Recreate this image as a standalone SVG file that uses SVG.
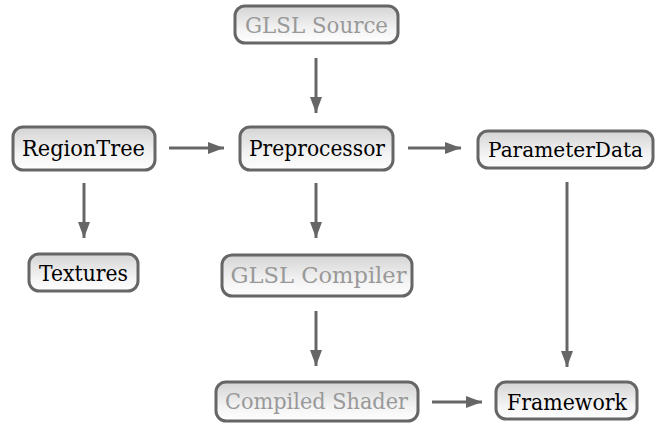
<svg xmlns="http://www.w3.org/2000/svg" width="660" height="423" viewBox="0 0 660 423">
<defs>
<linearGradient id="g" x1="0" y1="0" x2="0" y2="1">
<stop offset="0" stop-color="#d4d4d4"/>
<stop offset="0.6" stop-color="#f2f2f2"/>
<stop offset="1" stop-color="#ffffff"/>
</linearGradient>
<marker id="ah" viewBox="0 0 16 12" refX="16" refY="6" markerWidth="16" markerHeight="12" markerUnits="userSpaceOnUse" orient="auto">
<path d="M0,0 L16,6 L0,12 Z" fill="#666"/>
</marker>
<style>
.box{fill:url(#g);stroke:#666;stroke-width:3}
.dk{fill:#000}
.lt{fill:#999}
.c{stroke:#666;stroke-width:3;fill:none;marker-end:url(#ah)}
</style>
</defs>
<rect width="660" height="423" fill="#fff"/>
<g id="connectors">
<line class="c" x1="316" y1="58" x2="316" y2="113"/>
<line class="c" x1="169" y1="148" x2="224" y2="148"/>
<line class="c" x1="408" y1="148" x2="461" y2="148"/>
<line class="c" x1="84" y1="183" x2="84" y2="238"/>
<line class="c" x1="316" y1="183" x2="316" y2="238"/>
<line class="c" x1="316" y1="311" x2="316" y2="366"/>
<line class="c" x1="567" y1="182" x2="567" y2="367"/>
<line class="c" x1="432" y1="402" x2="482" y2="402"/>
</g>
<g font-family="'DejaVu Serif', 'Liberation Serif', serif" font-size="22" text-anchor="middle">
<g id="glsl-source">
<rect class="box" x="235" y="6" width="163" height="37" rx="10"/>
<text class="lt" x="316.5" y="33" textLength="143" lengthAdjust="spacingAndGlyphs">GLSL Source</text>
</g>
<g id="region-tree">
<rect class="box" x="13" y="127" width="142" height="43" rx="10"/>
<text class="dk" x="83.5" y="156" textLength="123" lengthAdjust="spacingAndGlyphs">RegionTree</text>
</g>
<g id="preprocessor">
<rect class="box" x="240" y="127" width="153" height="43" rx="10"/>
<text class="dk" x="317" y="156" textLength="136" lengthAdjust="spacingAndGlyphs">Preprocessor</text>
</g>
<g id="parameter-data">
<rect class="box" x="478" y="131" width="175" height="37" rx="10"/>
<text class="dk" font-size="21" x="565.5" y="157" textLength="155" lengthAdjust="spacingAndGlyphs">ParameterData</text>
</g>
<g id="textures">
<rect class="box" x="29" y="254" width="109" height="37" rx="10"/>
<text class="dk" x="83.5" y="281" textLength="89" lengthAdjust="spacingAndGlyphs">Textures</text>
</g>
<g id="glsl-compiler">
<rect class="box" x="222" y="255" width="190" height="41" rx="10"/>
<text class="lt" x="318.5" y="283" textLength="176" lengthAdjust="spacingAndGlyphs">GLSL Compiler</text>
</g>
<g id="compiled-shader">
<rect class="box" x="216" y="382" width="202" height="39" rx="10"/>
<text class="lt" x="316.5" y="409" textLength="183" lengthAdjust="spacingAndGlyphs">Compiled Shader</text>
</g>
<g id="framework">
<rect class="box" x="496" y="382" width="141" height="37" rx="10"/>
<text class="dk" x="567" y="410" textLength="120" lengthAdjust="spacingAndGlyphs">Framework</text>
</g>
</g>
</svg>
